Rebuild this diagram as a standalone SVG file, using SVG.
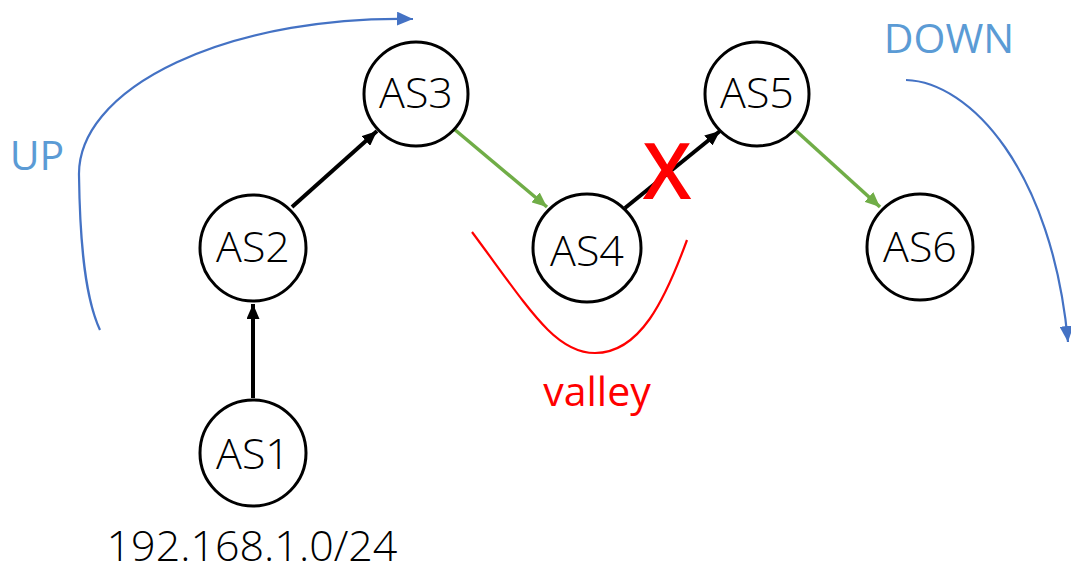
<svg xmlns="http://www.w3.org/2000/svg" width="1071" height="566" viewBox="0 0 1071 566">
<style>
.node circle{fill:#fff;stroke:#000;stroke-width:3}
.node text{font-family:"Open Sans","Liberation Sans",sans-serif;font-weight:300;font-size:43px;fill:#000;text-anchor:middle}
.blk{stroke:#000;stroke-width:4;fill:none}
.grn{stroke:#70AD47;stroke-width:3.5;fill:none}
.blu{stroke:#4472C4;stroke-width:2.2;fill:none}
.lbl{font-family:"Open Sans","Liberation Sans",sans-serif;font-size:41px}
</style>
<defs>
<marker id="ab" markerUnits="userSpaceOnUse" markerWidth="15" markerHeight="13" refX="15" refY="6.5" orient="auto"><path d="M0,0 L15,6.5 L0,13 z" fill="#000"/></marker>
<marker id="ag" markerUnits="userSpaceOnUse" markerWidth="15" markerHeight="13" refX="15" refY="6.5" orient="auto"><path d="M0,0 L15,6.5 L0,13 z" fill="#70AD47"/></marker>
<marker id="au" markerUnits="userSpaceOnUse" markerWidth="16" markerHeight="14" refX="16" refY="7" orient="auto"><path d="M0,0 L16,7 L0,14 z" fill="#4472C4"/></marker>
</defs>
<g id="connectors">
<line class="blk" x1="253" y1="398" x2="253" y2="304" marker-end="url(#ab)"/>
<line class="blk" x1="292" y1="207" x2="377" y2="131" marker-end="url(#ab)"/>
<line class="grn" x1="454" y1="129" x2="547" y2="207" marker-end="url(#ag)"/>
<line class="blk" x1="625" y1="208" x2="720" y2="131" marker-end="url(#ab)"/>
<line class="grn" x1="793" y1="128" x2="880" y2="207" marker-end="url(#ag)"/>
<path class="blu" d="M100,330 C86,300 80,250 79,175 A320,155 0 0 1 413,19" marker-end="url(#au)"/>
<path class="blu" d="M906,80 C970,82 1052,170 1068,342" marker-end="url(#au)"/>
<path d="M472,232 C530,310 555,353 595,353 C640,353 665,300 687,240" fill="none" stroke="#FF0000" stroke-width="2.2"/>
</g>
<g id="AS1" class="node"><circle cx="253" cy="453" r="53"/><text x="253" y="469">AS1</text></g>
<g id="AS2" class="node"><circle cx="253" cy="248" r="53"/><text x="253" y="262">AS2</text></g>
<g id="AS3" class="node"><circle cx="416" cy="94" r="52"/><text x="416" y="108">AS3</text></g>
<g id="AS4" class="node"><circle cx="587" cy="248" r="54"/><text x="587" y="266">AS4</text></g>
<g id="AS5" class="node"><circle cx="757" cy="94" r="52"/><text x="757" y="108">AS5</text></g>
<g id="AS6" class="node"><circle cx="920" cy="247" r="53"/><text x="920" y="262">AS6</text></g>
<text class="lbl" x="37" y="170" fill="#5B9BD5" text-anchor="middle">UP</text>
<text class="lbl" x="949" y="53" fill="#5B9BD5" text-anchor="middle" font-size="42">DOWN</text>
<text class="lbl" x="597" y="406" fill="#FF0000" text-anchor="middle">valley</text>
<text x="667" y="199" fill="#FF0000" text-anchor="middle" font-family="Open Sans, Liberation Sans, sans-serif" font-weight="600" font-size="78">X</text>
<text x="252" y="561" font-family="Open Sans, Liberation Sans, sans-serif" font-weight="300" font-size="43" text-anchor="middle" fill="#000">192.168.1.0/24</text>
</svg>
